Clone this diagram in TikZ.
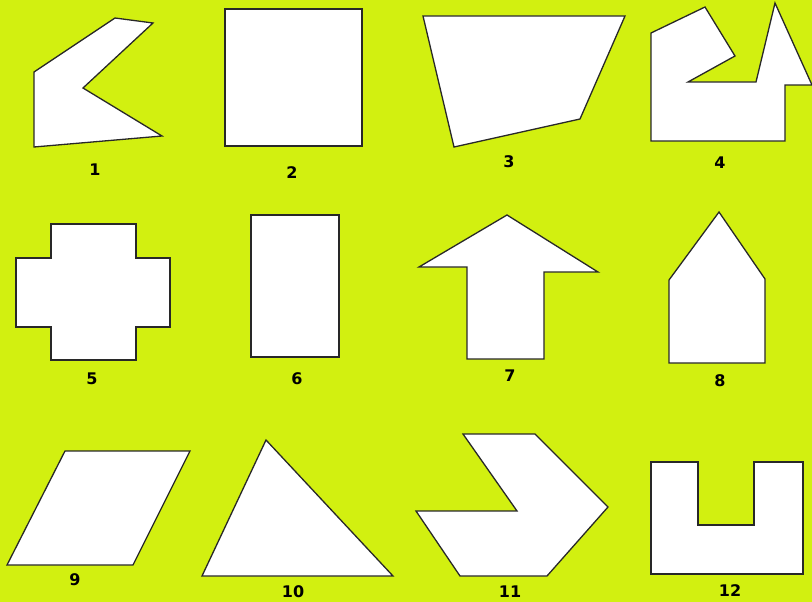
\documentclass[tikz,border=0pt]{standalone}
\usepackage{fontspec}
\setsansfont{DejaVu Sans}
\usetikzlibrary{calc}
\definecolor{bgcol}{RGB}{210,240, 16}
\definecolor{sfill}{RGB}{255,255,255}
\definecolor{sline}{RGB}{ 40, 40, 40}
\definecolor{lcol} {RGB}{  0,  0,  0}
\tikzset{
  SH/.style={fill=sfill, draw=sline, line width=1.3pt, line join=miter},
  LB/.style={lcol, inner sep=1pt, font=\sffamily\bfseries\fontsize{16}{16}\selectfont},
}

\begin{document}
\begin{tikzpicture}[x=1pt, y=-1pt]

%% ================================================================
%%  BACKGROUND
%% ================================================================
\fill[bgcol] (0,0) rectangle (812,602);
\useasboundingbox (0,0) rectangle (812,602);

%% ================================================================
%%  ROW 1
%% ================================================================
% shape 1
\draw[SH] (34,72) -- (115,18) -- (153,23) -- (83,88) -- (162,136) -- (34,147) -- cycle;
\node[LB] (lab1) at (95,170) {1};

% shape 2
\draw[SH] (225,9) rectangle (362,146);
\node[LB] (lab2) at (292,173) {2};

% shape 3
\draw[SH] (423,16) -- (625,16) -- (580,119) -- (454,147) -- cycle;
\node[LB] (lab3) at (509,162) {3};

% shape 4
\draw[SH] (651,33) -- (705,7) -- (735,56) -- (688,82) -- (756,82) -- (775,3)
  -- (812,85) -- (785,85) -- (785,141) -- (651,141) -- cycle;
\node[LB] (lab4) at (720,163) {4};

%% ================================================================
%%  ROW 2
%% ================================================================
% shape 5
\draw[SH] (51,224) -- (136,224) -- (136,258) -- (170,258) -- (170,327) -- (136,327)
  -- (136,360) -- (51,360) -- (51,327) -- (16,327) -- (16,258) -- (51,258) -- cycle;
\node[LB] (lab5) at (92,379) {5};

% shape 6
\draw[SH] (251,215) rectangle (339,357);
\node[LB] (lab6) at (297,379) {6};

% shape 7
\draw[SH] (507,215) -- (598,272) -- (544,272) -- (544,359) -- (467,359)
  -- (467,267) -- (419,267) -- cycle;
\node[LB] (lab7) at (510,376) {7};

% shape 8
\draw[SH] (719,212) -- (765,279) -- (765,363) -- (669,363) -- (669,280) -- cycle;
\node[LB] (lab8) at (720,381) {8};

%% ================================================================
%%  ROW 3
%% ================================================================
% shape 9
\draw[SH] (65,451) -- (190,451) -- (133,565) -- (7,565) -- cycle;
\node[LB] (lab9) at (75,580) {9};

% shape 10
\draw[SH] (266,440) -- (393,576) -- (202,576) -- cycle;
\node[LB] (lab10) at (293,592) {10};

% shape 11
\draw[SH] (463,434) -- (535,434) -- (608,507) -- (547,576) -- (460,576)
  -- (416,511) -- (517,511) -- cycle;
\node[LB] (lab11) at (510,592) {11};

% shape 12
\draw[SH] (651,462) -- (698,462) -- (698,525) -- (754,525) -- (754,462) -- (803,462)
  -- (803,574) -- (651,574) -- cycle;
\node[LB] (lab12) at (730,591) {12};

\end{tikzpicture}
\end{document}
